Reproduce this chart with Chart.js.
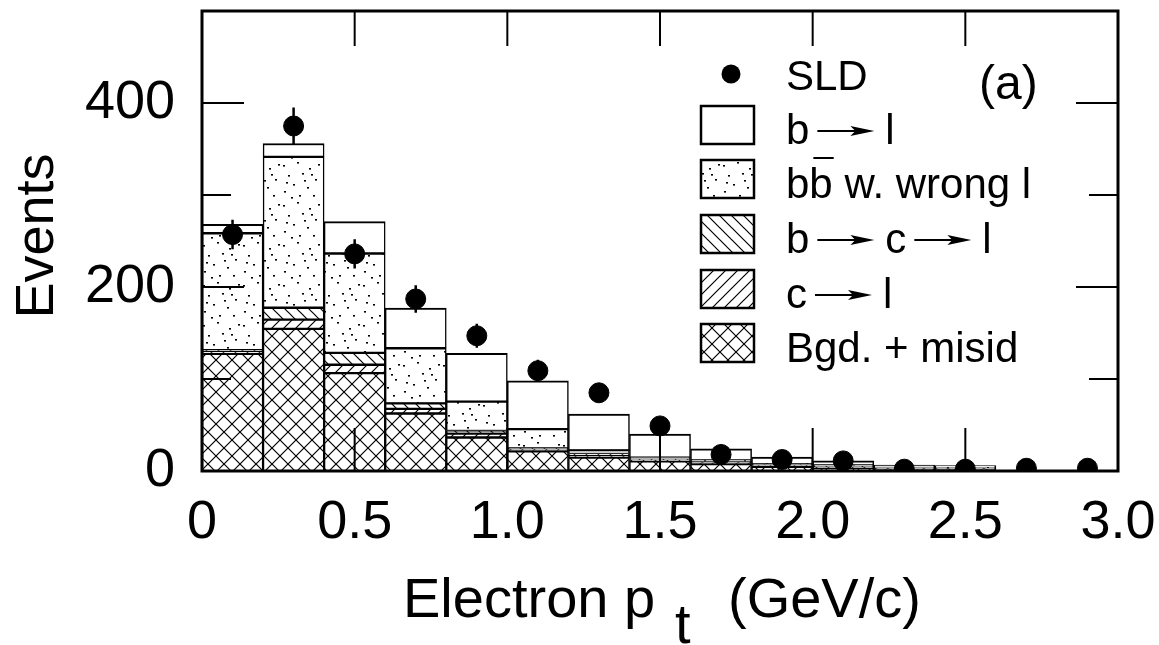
<!DOCTYPE html>
<html>
<head>
<meta charset="utf-8">
<script src="https://cdn.jsdelivr.net/npm/chart.js@4.4.1/dist/chart.umd.min.js"></script>
<style>
  html, body { margin: 0; padding: 0; background: #fff; }
  #wrap { width: 1159px; height: 645px; }
</style>
</head>
<body>
<div id="wrap"><canvas id="c" width="1159" height="645"></canvas></div>
<script>
// histogram bins 0.2 GeV/c wide, 0 .. 3.0
const binLabels = ["0.1","0.3","0.5","0.7","0.9","1.1","1.3","1.5","1.7","1.9","2.1","2.3","2.5","2.7","2.9"];
const binCenters = [0.1, 0.3, 0.5, 0.7, 0.9, 1.1, 1.3, 1.5, 1.7, 1.9, 2.1, 2.3, 2.5, 2.7, 2.9];

// stacked MC components, bottom to top
const bgdMisid  = [128, 155, 107, 63, 37, 22, 15, 11, 8, 5, 3, 2, 2, 0, 0];
const cToL      = [2, 10, 9, 5, 4, 2, 2, 1, 1, 1, 1, 0.5, 0.5, 0, 0];
const bToCToL   = [2, 13, 13, 6, 3, 1, 2, 1, 1, 1, 1, 0.5, 0.5, 0, 0];
const bbWrongL  = [127, 164, 108, 60, 32, 21, 4, 2, 2, 1, 1.5, 1, 1, 0, 0];
const bToL      = [9, 14, 34, 43, 52, 52, 39, 25, 12, 7, 4.5, 2.5, 2, 0, 0];

// SLD data points and errors
const sldEvents = [257, 375, 236, 187, 147, 109, 85, 49, 18, 12.5, 11, 2, 2, 3, 3];
const sldErrors = [16, 20, 16, 15, 13, 12, 9, 8, 5, 4, 4, 2, 2, 2, 2];

const xTicks = [0.5, 1.0, 1.5, 2.0, 2.5];
const yTicks = [100, 200, 300, 400];

const FONT = "'Liberation Sans', Arial, sans-serif";

function tile(size, draw) {
  const c = document.createElement("canvas");
  c.width = size; c.height = size;
  const g = c.getContext("2d");
  g.fillStyle = "#fff";
  g.fillRect(0, 0, size, size);
  g.strokeStyle = "#000";
  g.fillStyle = "#000";
  g.lineWidth = 1.2;
  draw(g, size);
  return g.createPattern(c, "repeat");
}
function slash(g, s) {
  g.beginPath();
  g.moveTo(0, s); g.lineTo(s, 0);
  g.moveTo(-2, 2); g.lineTo(2, -2);
  g.moveTo(s - 2, s + 2); g.lineTo(s + 2, s - 2);
  g.stroke();
}
function backslash(g, s) {
  g.beginPath();
  g.moveTo(0, 0); g.lineTo(s, s);
  g.moveTo(-2, s - 2); g.lineTo(2, s + 2);
  g.moveTo(s - 2, -2); g.lineTo(s + 2, 2);
  g.stroke();
}
const patCross = tile(16, (g, s) => { slash(g, s); backslash(g, s); });
const patSlash = tile(12, slash);
const patBack = tile(12, backslash);
const patDots = tile(40, (g) => {
  const pts = [[3,5],[17,2],[29,8],[8,15],[22,13],[35,19],[13,24],[27,27],[4,31],[19,35],[33,35],[38,4],[24,20],[11,37],[31,14],[6,22]];
  pts.forEach(p => g.fillRect(p[0], p[1], 2, 1.6));
});

const barBorder = { top: 2, bottom: 1, left: 1.5, right: 1.5 };
function barSet(label, data, fill) {
  return {
    type: "bar", label: label, data: data, order: 1,
    backgroundColor: fill, borderColor: "#000",
    borderWidth: barBorder, borderSkipped: false,
    grouped: false, barPercentage: 1, categoryPercentage: 1
  };
}

const framePlugin = {
  id: "frame",
  afterDatasetsDraw(chart) {
    const ctx = chart.ctx;
    const a = chart.chartArea;
    const xs = chart.scales.xl, ys = chart.scales.y;
    ctx.save();
    ctx.strokeStyle = "#000";
    ctx.fillStyle = "#000";
    // error bars
    ctx.lineWidth = 2.5;
    ctx.beginPath();
    binCenters.forEach((x, i) => {
      const px = xs.getPixelForValue(x);
      ctx.moveTo(px, ys.getPixelForValue(sldEvents[i] + sldErrors[i]));
      ctx.lineTo(px, ys.getPixelForValue(Math.max(0, sldEvents[i] - sldErrors[i])));
    });
    ctx.stroke();
    // inward ticks
    ctx.lineWidth = 2;
    ctx.beginPath();
    yTicks.forEach(v => {
      const py = ys.getPixelForValue(v);
      const len = v % 200 === 0 ? 42 : 29;
      ctx.moveTo(a.left, py); ctx.lineTo(a.left + len, py);
      ctx.moveTo(a.right, py); ctx.lineTo(a.right - len, py);
    });
    xTicks.forEach(v => {
      const px = xs.getPixelForValue(v);
      ctx.moveTo(px, a.bottom); ctx.lineTo(px, a.bottom - 43);
      ctx.moveTo(px, a.top); ctx.lineTo(px, a.top + 35);
    });
    ctx.stroke();
    // frame
    ctx.lineWidth = 3;
    ctx.strokeRect(a.left, a.top, a.right - a.left, a.bottom - a.top);
    ctx.restore();
  }
};

function drawArrow(ctx, x1, x2, y) {
  ctx.lineWidth = 2;
  ctx.beginPath();
  ctx.moveTo(x1, y); ctx.lineTo(x2 - 12, y);
  ctx.stroke();
  ctx.beginPath();
  ctx.moveTo(x2, y);
  ctx.lineTo(x2 - 24, y - 5);
  ctx.lineTo(x2 - 19, y);
  ctx.lineTo(x2 - 24, y + 5);
  ctx.closePath();
  ctx.fill();
}

const legendRows = [
  { parts: ["b", "->", "l"], fill: "#fff" },
  { parts: ["b", "bbar", " w. wrong l"], fill: patDots },
  { parts: ["b", "->", "c", "->", "l"], fill: patBack },
  { parts: ["c", "->", "l"], fill: patSlash },
  { parts: ["Bgd. + misid"], fill: patCross }
];

const legendPlugin = {
  id: "customLegend",
  afterDraw(chart) {
    const ctx = chart.ctx;
    ctx.save();
    ctx.fillStyle = "#000";
    ctx.strokeStyle = "#000";
    ctx.textBaseline = "alphabetic";
    ctx.textAlign = "left";
    const lf = "42px " + FONT;
    const textX = 786;
    // SLD entry
    ctx.beginPath();
    ctx.arc(731, 74, 9.5, 0, Math.PI * 2);
    ctx.fill();
    ctx.font = lf;
    ctx.fillText("SLD", textX, 90);
    // (a)
    ctx.font = "48px " + FONT;
    ctx.fillText("(a)", 979, 99);
    // boxes
    const boxTops = [106, 160, 215, 270, 324];
    legendRows.forEach((row, i) => {
      const top = boxTops[i], h = 38, base = top + h;
      ctx.fillStyle = row.fill;
      ctx.fillRect(701, top, 53, h);
      ctx.lineWidth = 2.5;
      ctx.strokeStyle = "#000";
      ctx.strokeRect(701, top, 53, h);
      ctx.fillStyle = "#000";
      ctx.font = lf;
      let x = textX;
      row.parts.forEach(p => {
        if (p === "->") {
          drawArrow(ctx, x + 8, x + 65, base - 13);
          x += 76;
        } else if (p === "bbar") {
          ctx.fillText("b", x, base);
          const w = ctx.measureText("b").width;
          ctx.lineWidth = 2;
          ctx.beginPath();
          ctx.moveTo(x + 4, base - 40); ctx.lineTo(x + w + 1, base - 40);
          ctx.stroke();
          x += w;
        } else {
          ctx.fillText(p, x, base);
          x += ctx.measureText(p).width;
        }
      });
    });
    // axis titles
    ctx.font = "54px " + FONT;
    ctx.save();
    ctx.translate(53, 236);
    ctx.rotate(-Math.PI / 2);
    ctx.textAlign = "center";
    ctx.fillText("Events", 0, 0);
    ctx.restore();
    ctx.font = "56px " + FONT;
    ctx.textAlign = "left";
    ctx.fillText("Electron p", 403, 617);
    ctx.fillText("t", 675, 643);
    ctx.fillText("(GeV/c)", 728, 617);
    ctx.restore();
  }
};

new Chart(document.getElementById("c"), {
  type: "bar",
  data: {
    labels: binLabels,
    datasets: [
      {
        type: "scatter", label: "SLD", xAxisID: "xl", order: 0,
        data: binCenters.map((x, i) => ({ x: x, y: sldEvents[i] })),
        pointRadius: 10, pointBackgroundColor: "#000", pointBorderColor: "#000",
        showLine: false
      },
      barSet("Bgd. + misid", bgdMisid, patCross),
      barSet("c \u2192 l", cToL, patSlash),
      barSet("b \u2192 c \u2192 l", bToCToL, patBack),
      barSet("b b\u0304 w. wrong l", bbWrongL, patDots),
      barSet("b \u2192 l", bToL, "#fff")
    ]
  },
  options: {
    responsive: false,
    animation: false,
    devicePixelRatio: 1,
    layout: { padding: { top: 5, right: 41, left: 0, bottom: 0 } },
    plugins: { legend: { display: false }, tooltip: { enabled: false } },
    scales: {
      x: { type: "category", display: false, stacked: true, offset: true },
      xl: {
        type: "linear", position: "bottom", min: 0, max: 3, offset: false,
        grid: { display: false, drawTicks: false, offset: false }, border: { display: false },
        ticks: {
          stepSize: 0.5, padding: 20, color: "#000", maxRotation: 0, autoSkip: false,
          font: { family: FONT, size: 54 },
          callback: v => v === 0 ? "0" : v.toFixed(1)
        },
        afterFit(s) { s.height = 174; s.paddingLeft = 0; s.paddingRight = 0; }
      },
      y: {
        min: 0, max: 500, stacked: true,
        grid: { display: false, drawTicks: false }, border: { display: false },
        ticks: {
          stepSize: 200, includeBounds: false, padding: 27, color: "#000",
          font: { family: FONT, size: 54 }
        },
        afterFit(s) { s.width = 202; s.paddingTop = 0; s.paddingBottom = 0; }
      }
    }
  },
  plugins: [framePlugin, legendPlugin]
});
</script>
</body>
</html>
